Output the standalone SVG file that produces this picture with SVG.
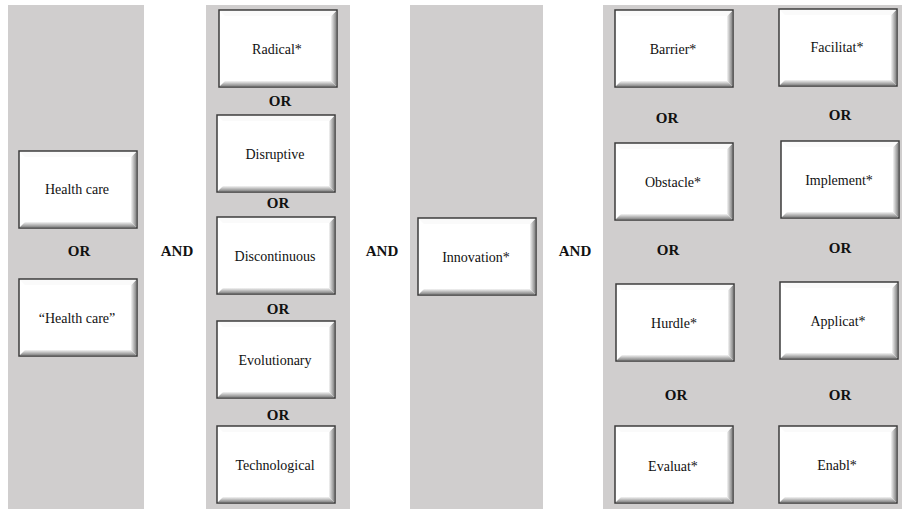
<svg xmlns="http://www.w3.org/2000/svg" width="902" height="510" viewBox="0 0 902 510">
<defs>
<style>
.panel{fill:#d0cece}
text{font-family:'Liberation Serif','Times New Roman','DejaVu Serif',serif;fill:#111;text-anchor:middle;dominant-baseline:central}
.lbl{font-size:14px}
.op{font-size:15px;font-weight:bold}
</style>
<linearGradient id="gb" x1="0" y1="0" x2="0" y2="1">
<stop offset="0" stop-color="#f4f4f4"/><stop offset="1" stop-color="#8a8a8a"/>
</linearGradient>
<linearGradient id="gr" x1="0" y1="0" x2="1" y2="0">
<stop offset="0" stop-color="#f4f4f4"/><stop offset="1" stop-color="#8a8a8a"/>
</linearGradient>
<g id="btn">
<rect x="0" y="0" width="118" height="77" fill="#ffffff" stroke="#3c3c3c" stroke-width="1.5"/>
<polygon points="1,76 117,76 112,71 6,71" fill="url(#gb)"/>
<polygon points="117,1 117,76 112,71 112,6" fill="url(#gr)"/>
<polygon points="1,1 117,1 112,6 6,6" fill="#fafafa"/>
</g>
</defs>
<rect width="902" height="510" fill="#ffffff"/>
<g id="panels">
<rect class="panel" x="8" y="5" width="136" height="504"/>
<rect class="panel" x="206" y="5" width="144" height="504"/>
<rect class="panel" x="410" y="5" width="133" height="504"/>
<rect class="panel" x="603" y="5" width="299" height="504"/>
</g>
<g id="connectors">
<text class="op" x="79" y="251">OR</text>
<text class="op" x="177" y="251">AND</text>
<text class="op" x="280" y="101">OR</text>
<text class="op" x="278" y="203">OR</text>
<text class="op" x="278" y="309">OR</text>
<text class="op" x="278" y="415">OR</text>
<text class="op" x="382" y="251">AND</text>
<text class="op" x="575" y="251">AND</text>
<text class="op" x="667" y="118">OR</text>
<text class="op" x="840" y="115">OR</text>
<text class="op" x="668" y="250">OR</text>
<text class="op" x="840" y="248">OR</text>
<text class="op" x="676" y="395">OR</text>
<text class="op" x="840" y="395">OR</text>
</g>
<g id="n-healthcare" transform="translate(19,151)"><use href="#btn"/><text class="lbl" x="58" y="38">Health care</text></g>
<g id="n-healthcare-q" transform="translate(19,279)"><use href="#btn"/><text class="lbl" x="58" y="39">“Health care”</text></g>
<g id="n-radical" transform="translate(219,10)"><use href="#btn"/><text class="lbl" x="58" y="39">Radical*</text></g>
<g id="n-disruptive" transform="translate(217,115)"><use href="#btn"/><text class="lbl" x="58" y="39">Disruptive</text></g>
<g id="n-discontinuous" transform="translate(217,217)"><use href="#btn"/><text class="lbl" x="58" y="39">Discontinuous</text></g>
<g id="n-evolutionary" transform="translate(217,321)"><use href="#btn"/><text class="lbl" x="58" y="39">Evolutionary</text></g>
<g id="n-technological" transform="translate(217,426)"><use href="#btn"/><text class="lbl" x="58" y="39">Technological</text></g>
<g id="n-innovation" transform="translate(418,218)"><use href="#btn"/><text class="lbl" x="58" y="39">Innovation*</text></g>
<g id="n-barrier" transform="translate(615,10)"><use href="#btn"/><text class="lbl" x="58" y="39">Barrier*</text></g>
<g id="n-facilitat" transform="translate(779,9)"><use href="#btn"/><text class="lbl" x="58" y="38">Facilitat*</text></g>
<g id="n-obstacle" transform="translate(615,143)"><use href="#btn"/><text class="lbl" x="58" y="39">Obstacle*</text></g>
<g id="n-implement" transform="translate(781,141)"><use href="#btn"/><text class="lbl" x="58" y="39">Implement*</text></g>
<g id="n-hurdle" transform="translate(616,284)"><use href="#btn"/><text class="lbl" x="58" y="39">Hurdle*</text></g>
<g id="n-applicat" transform="translate(780,282)"><use href="#btn"/><text class="lbl" x="58" y="39">Applicat*</text></g>
<g id="n-evaluat" transform="translate(615,426)"><use href="#btn"/><text class="lbl" x="58" y="40">Evaluat*</text></g>
<g id="n-enabl" transform="translate(779,426)"><use href="#btn"/><text class="lbl" x="58" y="39">Enabl*</text></g>
</svg>
